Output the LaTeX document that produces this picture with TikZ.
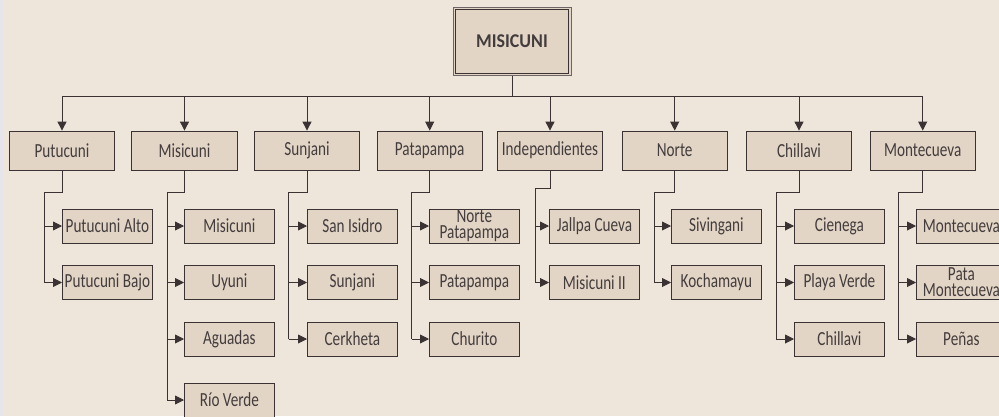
\documentclass[tikz,border=0pt]{standalone}
\usepackage{fontspec}
\setmainfont{Carlito}[FakeStretch=0.76]
\newfontfamily\topfont{Carlito}[FakeStretch=0.92]
\usetikzlibrary{arrows.meta}
\definecolor{bgc}{HTML}{EEE6DB}
\definecolor{boxc}{HTML}{E3D5C6}
\definecolor{edgec}{HTML}{3B3333}
\definecolor{txtc}{HTML}{423C3C}
\definecolor{stripc}{HTML}{E7E5EC}
\definecolor{outerc}{HTML}{6E6666}
\begin{document}
\begin{tikzpicture}[x=1pt,y=-1pt,
  lvl/.style={draw=edgec,fill=boxc,line width=0.8pt,minimum width=105.5pt,minimum height=39pt,inner sep=0pt,text=txtc,font=\fontsize{20}{20}\selectfont},
  leaf/.style={draw=edgec,fill=boxc,line width=0.8pt,minimum width=90pt,minimum height=34pt,inner sep=0pt,anchor=west,text=txtc,align=center,font=\fontsize{20}{16}\selectfont},
  conn/.style={draw=edgec,line width=0.9pt},
  arr/.style={conn,-{Triangle[length=9pt,width=9pt]}}]
\fill[bgc] (0,0) rectangle (999,416);
\fill[stripc] (0,0) rectangle (3,416);
\useasboundingbox (0,0) rectangle (999,416);
% top node
\node[draw=outerc,fill=boxc,line width=0.8pt,minimum width=118pt,minimum height=68.5pt,inner sep=0pt,text=txtc,font=\topfont\bfseries\fontsize{19.5}{19.5}\selectfont] (top) at (512,41.5) {MISICUNI};
\draw[edgec,line width=0.9pt] ([shift={(3,3)}]top.north west) rectangle ([shift={(-3,-3)}]top.south east);
% rows
\coordinate (R1) at (0,226);
\coordinate (R2) at (0,282.5);
\coordinate (R3) at (0,339);
\coordinate (R4) at (0,400);
\coordinate (busL) at (62,96);
\coordinate (busR) at (922.7,96);
\draw[conn] (top.south) -- (top.south |- busL);
\draw[conn] (busL) -- (busR);
% level 1
\foreach \i/\cx/\lx/\cl/\jy/\lab in {
  1/62/44/62/192/Putucuni,
  2/184.5/167/184/192/Misicuni,
  3/307/288.7/307/192/Sunjani,
  4/429.7/411.7/429/192/Patapampa,
  5/550/535/549/188/Independientes,
  6/674.7/654/671/192/Norte,
  7/799/776/794/192/Chillavi,
  8/922.7/898/916/192/Montecueva}{
  \node[lvl] (L\i) at (\cx,150.5) {\lab};
  \coordinate (J\i) at (\lx,\jy);
  \coordinate (K\i) at (\cl,0);
  \draw[arr] (L\i.north |- busL) -- (L\i.north);
}
% children
\foreach \i/\r/\lab in {
  1/1/{Putucuni Alto}, 1/2/{Putucuni Bajo},
  2/1/Misicuni, 2/2/Uyuni, 2/3/Aguadas, 2/4/{Río Verde},
  3/1/{San Isidro}, 3/2/Sunjani, 3/3/Cerkheta,
  4/1/{Norte\\Patapampa}, 4/2/Patapampa, 4/3/Churito,
  5/1/{Jallpa Cueva}, 5/2/{Misicuni II},
  6/1/Sivingani, 6/2/Kochamayu,
  7/1/Cienega, 7/2/{Playa Verde}, 7/3/Chillavi,
  8/1/Montecueva, 8/2/{Pata\\Montecueva}, 8/3/Peñas}{
  \node[leaf] (C\i-\r) at (K\i |- R\r) {\lab};
  \draw[arr] (J\i |- C\i-\r.west) -- (C\i-\r.west);
}
% vertical trunks
\foreach \i/\last in {1/2,2/4,3/3,4/3,5/2,6/2,7/3,8/3}{
  \draw[conn] (L\i.south) |- (J\i) -- (J\i |- C\i-\last.west);
}
\end{tikzpicture}
\end{document}
